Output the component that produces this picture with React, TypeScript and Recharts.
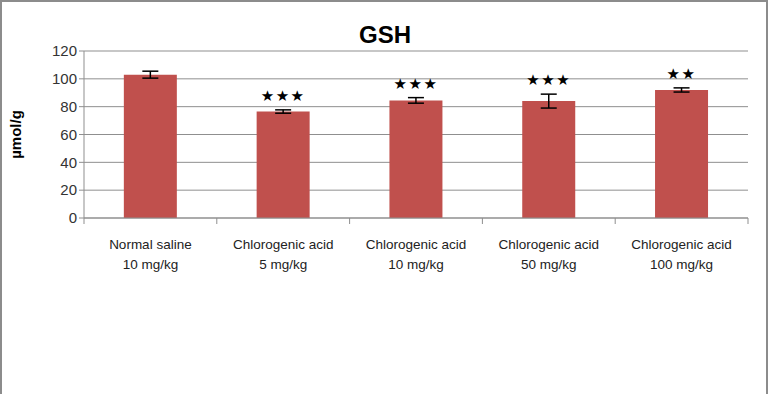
import { BarChart, Bar, XAxis, YAxis, CartesianGrid, ErrorBar, LabelList } from "recharts";

const groups = ["Normal saline", "Chlorogenic acid", "Chlorogenic acid", "Chlorogenic acid", "Chlorogenic acid"];
const doses = ["10 mg/kg", "5 mg/kg", "10 mg/kg", "50 mg/kg", "100 mg/kg"];
const gsh = [103, 76.5, 84.5, 84, 92];
const sem = [2.5, 1.2, 2, 5, 1.5];
const stars = ["", "★★★", "★★★", "★★★", "★★"];
const yTicks = [0, 20, 40, 60, 80, 100, 120];

const data = groups.map((g, i) => ({
  name: `${g}\n${doses[i]}`,
  value: gsh[i],
  err: sem[i],
  stars: stars[i],
}));

const font = "'Liberation Sans', Arial, sans-serif";
const axisGrey = "#8f8f8f";

// category label plus the boundary tick marks between categories
function CategoryTick(props: any) {
  const { x, y, payload, index, width, visibleTicksCount } = props;
  const lines = String(payload.value).split("\n");
  const half = width / visibleTicksCount / 2;
  const top = y - 8;
  return (
    <g>
      <line x1={x - half} x2={x - half} y1={top} y2={top + 6} stroke={axisGrey} />
      {index === visibleTicksCount - 1 && (
        <line x1={x + half} x2={x + half} y1={top} y2={top + 6} stroke={axisGrey} />
      )}
      <text x={x} y={y + 23} textAnchor="middle" fontFamily={font} fontSize={13.5} fill="#222">
        {lines.map((l, i) => (
          <tspan key={i} x={x} dy={i === 0 ? 0 : 20}>
            {l}
          </tspan>
        ))}
      </text>
    </g>
  );
}

function StarLabel(props: any) {
  const { x, y, width, height, index } = props;
  const d = data[index];
  if (!d.stars) return null;
  const perUnit = height / d.value;
  const top = y - d.err * perUnit;
  return (
    <text
      x={x + width / 2}
      y={top - 9}
      textAnchor="middle"
      fontFamily="'DejaVu Sans', sans-serif"
      fontSize={15}
      letterSpacing={1.5}
      fill="#000"
    >
      {d.stars}
    </text>
  );
}

export default function App() {
  return (
    <div
      style={{
        position: "absolute",
        left: 0,
        top: 0,
        width: 768,
        height: 394,
        background: "#fff",
        boxSizing: "border-box",
        borderTop: "2px solid #8c8c8c",
        borderLeft: "2px solid #8c8c8c",
        borderRight: "2px solid #8c8c8c",
      }}
    >
      <div
        style={{
          position: "absolute",
          left: 0,
          width: 766,
          top: 19,
          textAlign: "center",
          fontFamily: font,
          fontWeight: "bold",
          fontSize: 24,
          color: "#000",
        }}
      >
        GSH
      </div>
      <BarChart
        width={764}
        height={392}
        data={data}
        margin={{ top: 49, right: 18, bottom: 146, left: 0 }}
        barCategoryGap="30%"
        style={{ position: "absolute", left: 0, top: 0 }}
      >
        <CartesianGrid vertical={false} stroke={axisGrey} strokeWidth={1} />
        <XAxis
          dataKey="name"
          axisLine={{ stroke: axisGrey }}
          tickLine={false}
          tick={<CategoryTick />}
          interval={0}
        />
        <YAxis
          width={82}
          domain={[0, 120]}
          ticks={yTicks}
          axisLine={{ stroke: axisGrey }}
          tickLine={{ stroke: axisGrey }}
          tickSize={5}
          tick={{ fontFamily: font, fontSize: 15, fill: "#333" }}
          label={{
            value: "µmol/g",
            angle: -90,
            position: "insideLeft",
            offset: 14,
            style: { fontFamily: font, fontWeight: "bold", fontSize: 15, fill: "#000", textAnchor: "middle" },
          }}
        />
        <Bar dataKey="value" fill="#C0504D" isAnimationActive={false}>
          <ErrorBar dataKey="err" width={8} stroke="#000" strokeWidth={1.5} />
          <LabelList dataKey="stars" content={<StarLabel />} />
        </Bar>
      </BarChart>
    </div>
  );
}
